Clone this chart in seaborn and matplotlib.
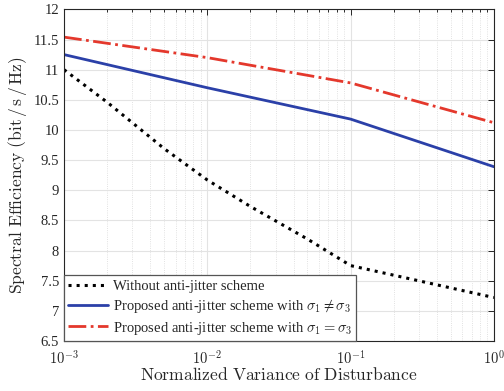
import numpy as np
import pandas as pd
import matplotlib
matplotlib.use("Agg")
import matplotlib.pyplot as plt
import seaborn as sns

sns.set_style("white")
plt.rcParams['font.family'] = ['Liberation Serif', 'DejaVu Serif']
plt.rcParams['mathtext.fontset'] = 'cm'

# values
x_black = [1e-3, 2e-3, 5e-3, 1e-2, 2e-2, 5e-2, 1e-1, 1e0]
y_black = [11.0, 10.46, 9.69, 9.17, 8.73, 8.19, 7.75, 7.22]
x_prop = [1e-3, 1e-2, 1e-1, 1e0]
y_blue = [11.25, 10.70, 10.18, 9.39]
y_red = [11.54, 11.20, 10.78, 10.12]

labels = ['Without anti-jitter scheme',
          r'Proposed anti-jitter scheme with $\sigma_1 \neq \sigma_3$',
          r'Proposed anti-jitter scheme with $\sigma_1 = \sigma_3$']

fig = plt.figure(figsize=(5.04, 3.91), dpi=100)
ax = fig.add_axes([0.127, 0.128, 0.853, 0.848])

sns.lineplot(x=x_black, y=y_black, ax=ax, color='black', linestyle=':', linewidth=2.2, label=labels[0])
sns.lineplot(x=x_prop, y=y_blue, ax=ax, color='#2b40a8', linestyle='-', linewidth=2.0, label=labels[1])
sns.lineplot(x=x_prop, y=y_red, ax=ax, color='#e4382c', linestyle='-.', linewidth=2.0, label=labels[2])

ax.set_xscale('log')
ax.set_xlim(1e-3, 1e0)
ax.set_ylim(6.5, 12)
ax.set_yticks(np.arange(6.5, 12.01, 0.5))
ax.set_yticklabels([f'{v:g}' for v in np.arange(6.5, 12.01, 0.5)])
ax.set_xticks([1e-3, 1e-2, 1e-1, 1e0])
ax.set_xticklabels([r'$10^{-3}$', r'$10^{-2}$', r'$10^{-1}$', r'$10^{0}$'])

ax.grid(True, which='major', color='#e3e3e3', linewidth=0.8, linestyle='-')
ax.grid(True, which='minor', axis='x', color='#d8d8d8', linewidth=0.6, linestyle=':')
ax.tick_params(which='both', direction='in', top=True, right=True, labelsize=10.5, length=4, width=0.7, colors='#262626')
ax.tick_params(which='minor', length=2.5)
ax.tick_params(axis='x', pad=6)
for s in ax.spines.values():
    s.set_color('#262626')
    s.set_linewidth(0.8)

ax.set_xlabel(r'$\mathrm{Normalized\ Variance\ of\ Disturbance}$', fontsize=12.6, labelpad=0, color='#262626')
ax.set_ylabel(r'$\mathrm{Spectral\ Efficiency\ (bit\,/\,s\,/\,Hz)}$', fontsize=12.6, labelpad=3, color='#262626')

leg = ax.legend(loc='lower left', borderaxespad=0, fancybox=False, fontsize=10.5,
                handlelength=2.75, handletextpad=0.3, labelspacing=0.3, borderpad=0.3, framealpha=1)
leg.get_frame().set_edgecolor('#555555')
leg.get_frame().set_linewidth(0.9)

fig.savefig('out.png', dpi=100)
